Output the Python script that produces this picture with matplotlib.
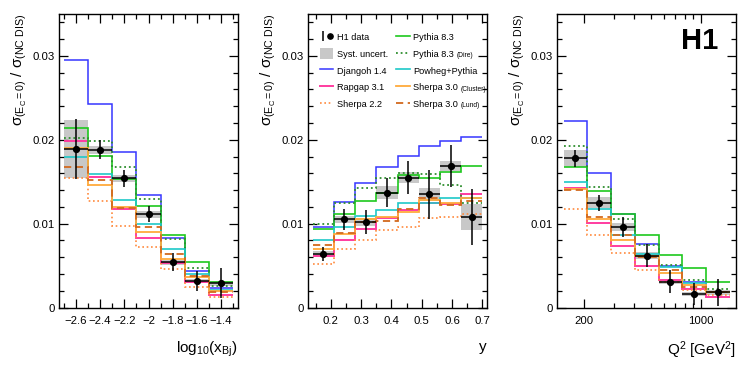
#!/usr/bin/env python3
"""Zero-charged-energy fraction vs log10(x), y and Q2, compared with MC generators."""

import matplotlib

matplotlib.use("Agg")
import matplotlib.pyplot as plt
from matplotlib.lines import Line2D
from matplotlib.patches import Patch
from matplotlib.legend_handler import HandlerTuple
from matplotlib.ticker import MultipleLocator, FuncFormatter, NullFormatter

plt.rcParams["font.family"] = ["Liberation Sans", "DejaVu Sans"]
plt.rcParams["mathtext.fontset"] = "custom"
plt.rcParams["mathtext.rm"] = "Liberation Sans"
plt.rcParams["mathtext.it"] = "Liberation Sans"
plt.rcParams["mathtext.sf"] = "Liberation Sans"
plt.rcParams["mathtext.bf"] = "Liberation Sans:bold"

# ---- bins ----
x_edges = [-2.7, -2.5, -2.3, -2.1, -1.9, -1.7, -1.5, -1.3]
y_edges = [0.14, 0.21, 0.28, 0.35, 0.42, 0.49, 0.56, 0.63, 0.70]
q2_edges = [150, 208, 289, 402, 558, 775, 1077, 1500]

# ---- H1 data (value, total error, systematic error) ----
x_data = [0.0189, 0.0188, 0.0154, 0.0111, 0.0054, 0.0032, 0.0029]
x_err = [0.0036, 0.00112, 0.00105, 0.00095, 0.0011, 0.0012, 0.0018]
x_syst = [0.0035, 0.0005, 0.00045, 0.00045, 0.0003, 0.00025, 0.0003]

y_data = [0.0064, 0.0105, 0.0102, 0.0137, 0.0155, 0.0135, 0.0169, 0.0108]
y_err = [0.0008, 0.00125, 0.00143, 0.00175, 0.0020, 0.0029, 0.0025, 0.0033]
y_syst = [0.0003, 0.00045, 0.0005, 0.00073, 0.0007, 0.0008, 0.0006, 0.0016]

q2_data = [0.0178, 0.0125, 0.0096, 0.0062, 0.0031, 0.0016, 0.0018]
q2_err = [0.0010, 0.00095, 0.0012, 0.0014, 0.0014, 0.0013, 0.0016]
q2_syst = [0.0010, 0.00065, 0.0005, 0.00045, 0.0003, 0.00028, 0.00025]

# ---- MC predictions ----
djangoh_x = [0.0295, 0.0243, 0.0186, 0.01345, 0.0083, 0.0043, 0.0023]
pythia_x = [0.0214, 0.0181, 0.0153, 0.0121, 0.0086, 0.0054, 0.0031]
dire_x = [0.0202, 0.0198, 0.0168, 0.0129, 0.0082, 0.0047, 0.0026]
powheg_x = [0.0179, 0.0159, 0.0128, 0.0100, 0.0070, 0.0040, 0.0021]
rapgap_x = [0.0199, 0.0156, 0.0117, 0.0083, 0.0053, 0.0030, 0.0015]
sherpa_cl_x = [0.0190, 0.0146, 0.0120, 0.0090, 0.0058, 0.0036, 0.0020]
sherpa22_x = [0.0154, 0.0127, 0.0097, 0.0072, 0.0046, 0.0024, 0.0012]
sherpa_lund_x = [0.0168, 0.0152, 0.0119, 0.0096, 0.0064, 0.0037, 0.0019]

djangoh_y = [0.0096, 0.0126, 0.0148, 0.0168, 0.0181, 0.0192, 0.0199, 0.0203]
pythia_y = [0.0094, 0.0112, 0.0127, 0.0137, 0.0158, 0.0155, 0.0161, 0.0169]
dire_y = [0.0100, 0.0125, 0.0143, 0.0155, 0.0160, 0.0159, 0.0146, 0.0125]
powheg_y = [0.0080, 0.0096, 0.0109, 0.0116, 0.0125, 0.0125, 0.0131, 0.0131]
rapgap_y = [0.0061, 0.0080, 0.0094, 0.0107, 0.0116, 0.0125, 0.0124, 0.0135]
sherpa_cl_y = [0.0070, 0.0088, 0.0106, 0.0108, 0.0114, 0.0128, 0.0125, 0.0130]
sherpa22_y = [0.0052, 0.0070, 0.0081, 0.0092, 0.0096, 0.0107, 0.0108, 0.0112]
sherpa_lund_y = [0.0074, 0.0089, 0.0102, 0.0103, 0.0118, 0.0131, 0.0122, 0.0127]

djangoh_q = [0.0222, 0.0160, 0.0112, 0.0076, 0.0049, 0.0031, 0.0019]
pythia_q = [0.0168, 0.0139, 0.0112, 0.0086, 0.0063, 0.0047, 0.0031]
dire_q = [0.0193, 0.0144, 0.0105, 0.0075, 0.0051, 0.0033, 0.0022]
powheg_q = [0.0150, 0.0117, 0.0087, 0.0064, 0.0048, 0.0029, 0.0019]
rapgap_q = [0.0142, 0.0101, 0.0073, 0.0050, 0.0033, 0.0022, 0.0013]
sherpa_cl_q = [0.0141, 0.0106, 0.0080, 0.0061, 0.0041, 0.0027, 0.0018]
sherpa22_q = [0.0117, 0.0086, 0.0065, 0.0045, 0.0031, 0.0021, 0.0015]
sherpa_lund_q = [0.0140, 0.0108, 0.0086, 0.0060, 0.0045, 0.0025, 0.0019]

# name, legend label, small suffix, colour, linestyle, linewidth
mc_styles = [
    ("djangoh", "Djangoh 1.4", "", "#3535ff", "-", 1.1),
    ("rapgap", "Rapgap 3.1", "", "#ff3ca0", "-", 1.4),
    ("sherpa22", "Sherpa 2.2", "", "#ff8a3d", (0, (1, 1.6)), 1.2),
    ("pythia", "Pythia 8.3", "", "#1ec81e", "-", 1.2),
    ("dire", "Pythia 8.3", "(Dire)", "#2f8f2f", (0, (1, 1.6)), 1.3),
    ("powheg", "Powheg+Pythia", "", "#1ec8c8", "-", 1.2),
    ("sherpa_cl", "Sherpa 3.0", "(Cluster)", "#ffaa3c", "-", 1.3),
    ("sherpa_lund", "Sherpa 3.0", "(Lund)", "#d2691e", (0, (4, 2.5)), 1.3),
]

mc_x = {"djangoh": djangoh_x, "pythia": pythia_x, "dire": dire_x, "powheg": powheg_x,
        "rapgap": rapgap_x, "sherpa_cl": sherpa_cl_x, "sherpa22": sherpa22_x,
        "sherpa_lund": sherpa_lund_x}
mc_y = {"djangoh": djangoh_y, "pythia": pythia_y, "dire": dire_y, "powheg": powheg_y,
        "rapgap": rapgap_y, "sherpa_cl": sherpa_cl_y, "sherpa22": sherpa22_y,
        "sherpa_lund": sherpa_lund_y}
mc_q = {"djangoh": djangoh_q, "pythia": pythia_q, "dire": dire_q, "powheg": powheg_q,
        "rapgap": rapgap_q, "sherpa_cl": sherpa_cl_q, "sherpa22": sherpa22_q,
        "sherpa_lund": sherpa_lund_q}

YLABEL = r"$\sigma_{(\mathrm{E_C=0})}\ /\ \sigma_{(\mathrm{NC\ DIS})}$"
TICK_FS = 8.2


def fmt(v, _pos=None):
    return f"{v:g}".replace("-", "\u2212")


def draw_panel(ax, edges, data, err, syst, mc, logx=False):
    lo, hi = edges[:-1], edges[1:]
    widths = [h - l for l, h in zip(lo, hi)]
    if logx:
        centers = [(l * h) ** 0.5 for l, h in zip(lo, hi)]
    else:
        centers = [(l + h) / 2 for l, h in zip(lo, hi)]
    bottoms = [v - s for v, s in zip(data, syst)]
    heights = [2 * s for s in syst]
    ax.bar(lo, heights, width=widths, bottom=bottoms, align="edge",
           color="#c8c8c8", linewidth=0, zorder=1)
    for name, _label, _suffix, color, ls, lw in mc_styles:
        ax.stairs(mc[name], edges, baseline=None, color=color, linestyle=ls,
                  linewidth=lw, zorder=2)
    xerr = [[c - l for c, l in zip(centers, lo)], [h - c for c, h in zip(centers, hi)]]
    ax.errorbar(centers, data, yerr=err, xerr=xerr, fmt="o", color="black",
                ms=4.2, elinewidth=1.1, capsize=0, zorder=4)

    ax.set_ylim(0, 0.035)
    ax.yaxis.set_major_locator(MultipleLocator(0.01))
    ax.yaxis.set_minor_locator(MultipleLocator(0.002))
    ax.yaxis.set_major_formatter(FuncFormatter(fmt))
    ax.tick_params(which="both", direction="in", top=True, right=True,
                   width=0.9, labelsize=TICK_FS)
    ax.tick_params(which="major", length=6.5)
    ax.tick_params(which="minor", length=3.5)
    ax.tick_params(axis="x", pad=6)
    ax.tick_params(axis="y", pad=3)
    for sp in ax.spines.values():
        sp.set_linewidth(1.0)
    ax.set_ylabel(YLABEL, fontsize=11, loc="top")
    ax.yaxis.set_label_coords(-0.17, 1.0)


def main():
    fig = plt.figure(figsize=(7.47, 3.65), dpi=100)
    W, H = 747.0, 365.0
    lefts = [59, 308, 557]
    axes = [fig.add_axes([l / W, (H - 307.5) / H, 179 / W, 293.5 / H]) for l in lefts]
    ax1, ax2, ax3 = axes

    # panel 1: log10(x_Bj)
    draw_panel(ax1, x_edges, x_data, x_err, x_syst, mc_x)
    ax1.set_xlim(-2.74, -1.26)
    ax1.set_xticks([-2.6, -2.4, -2.2, -2.0, -1.8, -1.6, -1.4])
    ax1.xaxis.set_minor_locator(MultipleLocator(0.1))
    ax1.xaxis.set_major_formatter(FuncFormatter(fmt))
    ax1.set_xlabel(r"$\mathrm{log_{10}(x_{Bj})}$", fontsize=11, loc="right")
    ax1.xaxis.set_label_coords(1.0, -0.11)

    # panel 2: y
    draw_panel(ax2, y_edges, y_data, y_err, y_syst, mc_y)
    ax2.set_xlim(0.125, 0.715)
    ax2.xaxis.set_major_locator(MultipleLocator(0.1))
    ax2.xaxis.set_minor_locator(MultipleLocator(0.05))
    ax2.xaxis.set_major_formatter(FuncFormatter(fmt))
    ax2.set_xlabel("y", fontsize=11, loc="right")
    ax2.xaxis.set_label_coords(1.0, -0.11)

    # panel 3: Q2
    draw_panel(ax3, q2_edges, q2_data, q2_err, q2_syst, mc_q, logx=True)
    ax3.set_xscale("log")
    ax3.set_xlim(137, 1630)
    ax3.set_xticks([200, 1000], labels=["200", "1000"])
    ax3.set_xticks([300, 400, 500, 600, 700, 800, 900], minor=True)
    ax3.xaxis.set_minor_formatter(NullFormatter())
    ax3.set_xlabel(r"$\mathrm{Q^2\ [GeV^2]}$", fontsize=11, loc="right")
    ax3.xaxis.set_label_coords(1.0, -0.11)
    ax3.text(0.90, 0.955, "H1", transform=ax3.transAxes, ha="right", va="top",
             fontsize=21, fontweight="bold")

    # legend in panel 2
    data_handle = (Line2D([], [], marker="|", color="black", ls="none", ms=7.5, mew=1.1),
                   Line2D([], [], marker="o", color="black", ls="none", ms=3.8))
    syst_handle = Patch(facecolor="#c8c8c8", edgecolor="none")
    mc_handles = {name: Line2D([], [], color=c, linestyle=ls, linewidth=lw)
                  for name, _l, _s, c, ls, lw in mc_styles}
    labels_by_name = {name: lab for name, lab, _s, _c, _ls, _lw in mc_styles}
    suffix_by_name = {name: s for name, _l, s, _c, _ls, _lw in mc_styles}
    order = ["djangoh", "rapgap", "sherpa22", "pythia", "dire", "powheg",
             "sherpa_cl", "sherpa_lund"]
    handles = [data_handle, syst_handle] + [mc_handles[n] for n in order]
    labels = ["H1 data", "Syst. uncert."] + [labels_by_name[n] for n in order]
    leg = ax2.legend(handles, labels, ncol=2, loc="upper left",
                     bbox_to_anchor=(0.067, 0.94), frameon=False, fontsize=6.6,
                     handlelength=1.45, handleheight=1.5, handletextpad=0.4,
                     labelspacing=0.6, columnspacing=0.9, borderpad=0,
                     borderaxespad=0,
                     handler_map={tuple: HandlerTuple(ndivide=None)})
    texts = leg.get_texts()
    for txt, name in zip(texts[2:], order):
        suffix = suffix_by_name[name]
        if suffix:
            ax2.annotate(suffix, xy=(1, 0), xycoords=txt, xytext=(2, -0.3),
                         textcoords="offset points", fontsize=4.8,
                         ha="left", va="bottom", zorder=6)

    fig.savefig("out.png", dpi=100)
    plt.close(fig)


if __name__ == "__main__":
    main()
